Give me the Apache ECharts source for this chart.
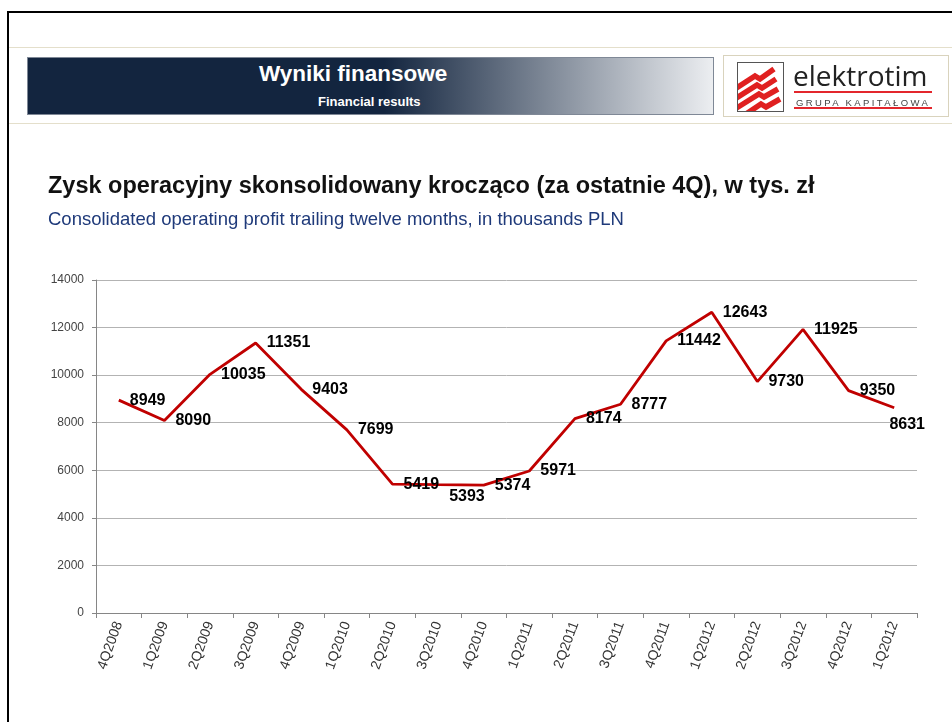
<!DOCTYPE html>
<html>
<head>
<meta charset="utf-8">
<script src="https://cdn.jsdelivr.net/npm/echarts@6.0.0/dist/echarts.min.js"></script>
<style>
    body{margin:0;width:952px;height:722px;overflow:hidden;background:#fff;position:relative;font-family:"Liberation Sans",Arial,sans-serif;}
    #chart{position:absolute;left:0;top:0;width:952px;height:722px;}
    .abs{position:absolute;z-index:2;}
    .frameTop{left:7px;top:11px;width:945px;height:2px;background:#000;}
    .frameLeft{left:7px;top:11px;width:2px;height:711px;background:#000;}
    .rule{left:9px;width:943px;height:1px;background:#e4dfcb;}
    .bar{left:27px;top:57px;width:685px;height:56px;border:1px solid #7f8896;
        background:linear-gradient(to right,#13253f 0%,#13253f 52%,#eceef1 100%);}
    .barTitle{left:259px;top:61px;color:#fff;font-weight:bold;font-size:22.5px;line-height:25px;white-space:nowrap;}
    .barSub{left:318px;top:94px;color:#fff;font-weight:bold;font-size:13px;line-height:16px;white-space:nowrap;}
    .logo{left:723px;top:55px;width:224px;height:60px;border:1px solid #d9d3bd;background:#fff;}
    .icon{left:737px;top:62px;}
    .brand{left:793px;top:61px;font-family:"Open Sans",sans-serif;font-size:28px;line-height:28px;color:#222;white-space:nowrap;}
    .redline{left:794px;width:138px;height:2px;background:#e3262c;}
    .group{left:796px;top:97px;font-size:9.5px;line-height:11px;letter-spacing:2.4px;color:#444;white-space:nowrap;}
</style>
</head>
<body>
<div id="chart"></div>
<div class="abs frameTop"></div>
<div class="abs frameLeft"></div>
<div class="abs rule" style="top:47px"></div>
<div class="abs rule" style="top:123px"></div>
<div class="abs bar"></div>
<div class="abs barTitle">Wyniki finansowe</div>
<div class="abs barSub">Financial results</div>
<div class="abs logo"></div>
<svg class="abs icon" width="47" height="50" viewBox="0 0 47 50">
    <defs><clipPath id="c"><rect x="1" y="1" width="45" height="48"/></clipPath></defs>
    <rect x="0.5" y="0.5" width="46" height="49" fill="#fff" stroke="#555" stroke-width="1"/>
    <g clip-path="url(#c)" stroke="#e02020" stroke-width="5.5" fill="none" stroke-linejoin="miter">
        <polyline points="-2,27 18,14 23,17 37,7"/>
        <polyline points="-2,37 20,23 25,26 39,17"/>
        <polyline points="-2,47 22,32 27,35 41,27"/>
        <polyline points="6,54 24,42 29,45 43,37"/>
    </g>
</svg>
<div class="abs brand">elektrotim</div>
<div class="abs redline" style="top:91px"></div>
<div class="abs group">GRUPA KAPITAŁOWA</div>
<div class="abs redline" style="top:107px"></div>

<script>
    // dane: zysk operacyjny kroczący, tys. zł
    let quarters = ['4Q2008','1Q2009','2Q2009','3Q2009','4Q2009','1Q2010','2Q2010','3Q2010','4Q2010',
        '1Q2011','2Q2011','3Q2011','4Q2011','1Q2012','2Q2012','3Q2012','4Q2012','1Q2012'];
    let profit = [8949,8090,10035,11351,9403,7699,5419,5393,5374,5971,8174,8777,11442,12643,9730,11925,9350,8631];
    let yTicks = [0,2000,4000,6000,8000,10000,12000,14000];

    let myChart = echarts.init(document.getElementById('chart'));

    let seriesData = profit.map(function (v, i) {
        let item = {value: v};
        if (i === 7) {
            item.label = {offset: [0, 12]};
        }
        if (i === profit.length - 1) {
            item.label = {position: 'bottom', distance: 9, offset: [13, 0]};
        }
        return item;
    });

    let option = {
        animation: false,
        title: [{
            text: 'Zysk operacyjny skonsolidowany krocząco (za ostatnie 4Q), w tys. zł',
            left: 48,
            top: 175,
            padding: 0,
            textStyle: {fontFamily: 'Liberation Sans', fontSize: 23.5, fontWeight: 'bold', color: '#111'}
        }, {
            text: 'Consolidated operating profit trailing twelve months, in thousands PLN',
            left: 48,
            top: 210,
            padding: 0,
            textStyle: {fontFamily: 'Liberation Sans', fontSize: 18.5, fontWeight: 'normal', color: '#1f3a7a'}
        }],
        grid: {left: 96, right: 35, top: 280, bottom: 109},
        xAxis: {
            type: 'category',
            data: quarters,
            boundaryGap: true,
            axisLine: {lineStyle: {color: '#868686', width: 1}},
            axisTick: {show: true, length: 5, lineStyle: {color: '#868686'}},
            axisLabel: {interval: 0, rotate: 70, margin: 9, fontSize: 14, color: '#333', fontFamily: 'Liberation Sans'}
        },
        yAxis: {
            type: 'value',
            min: yTicks[0],
            max: yTicks[yTicks.length - 1],
            interval: 2000,
            axisLine: {show: true, lineStyle: {color: '#868686', width: 1}},
            axisTick: {show: true, length: 4, lineStyle: {color: '#868686'}},
            axisLabel: {fontSize: 12, color: '#444', margin: 12, fontFamily: 'Liberation Sans',
                formatter: function (v) { return String(v); }},
            splitLine: {lineStyle: {color: '#b3b3b3', width: 1}}
        },
        series: [{
            name: 'zysk',
            type: 'line',
            data: seriesData,
            symbol: 'circle',
            symbolSize: 0.1,
            showSymbol: true,
            itemStyle: {color: '#c00000'},
            lineStyle: {color: '#c00000', width: 2.8},
            label: {
                show: true,
                position: 'right',
                distance: 11,
                fontFamily: 'Liberation Sans',
                fontSize: 16,
                fontWeight: 'bold',
                color: '#000'
            }
        }]
    };

    myChart.setOption(option);
</script>
</body>
</html>
